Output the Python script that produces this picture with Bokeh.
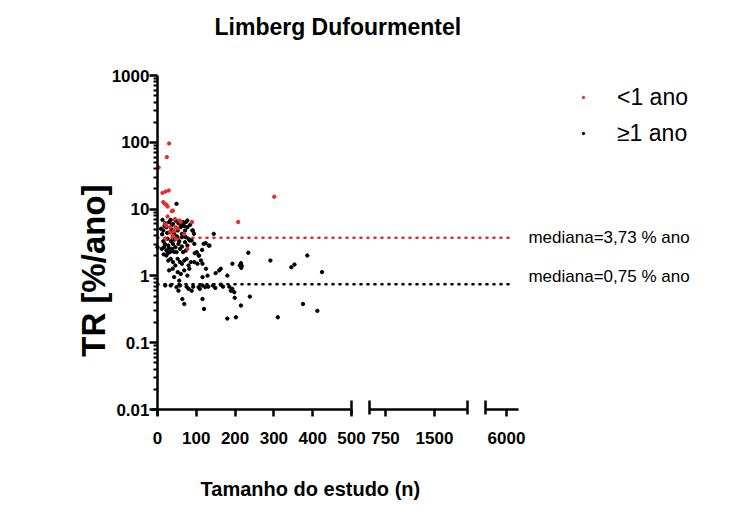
import math
from bokeh.plotting import figure
from bokeh.models import (Range1d, LinearAxis, LogAxis, FixedTicker, CustomJSTickFormatter,
                          Label, Legend, LegendItem)
from bokeh.embed import file_html
from bokeh.resources import INLINE

# ---------------- data ----------------
red_x = [30, 24, 3, 29, 21, 13, 15, 18, 23, 26, 37, 40, 301, 208, 26, 45, 57, 60, 89, 20,
         23, 33, 47, 52, 42, 69, 39, 21, 47, 77, 33]
red_y = [96, 60, 42, 19, 18.3, 17.5, 12.7, 12.1, 11.6, 10.9, 9.3, 9.5, 15.3, 6.4, 7.75, 7.1,
         6.75, 6.4, 6.4, 6.0, 5.6, 5.36, 5.36, 5.1, 4.7, 4.27, 4.0, 3.59, 3.59, 2.55, 4.5]

black_x = [49, 0,
           13, 20, 30, 34, 40, 47, 54, 66, 73, 77,
           9, 15, 23, 32, 37, 43, 52, 60, 63, 71, 77, 90, 63, 73, 80,
           11, 17, 23, 28, 32, 37, 40, 46, 49, 54, 58, 63, 66, 71, 77, 83, 88, 73,
           95, 101, 107, 112, 103, 116, 125, 129, 116,
           23, 28, 34, 40, 46, 52, 58, 63, 69, 75, 80, 86, 95,
           30, 39, 52, 60, 69, 77, 82, 43, 56,
           20, 34, 49, 54, 58, 75, 80, 88, 92, 106, 109, 116, 123, 131, 143, 149, 163, 169,
           185, 189, 193, 198,
           64, 69, 116, 120,
           150, 159, 163, 193, 215, 217,
           180, 202, 215,
           212, 216, 234, 199, 238, 291, 310, 345, 353, 386, 375, 412, 424,
           145, 132, 119, 96, 106, 115, 124, 134, 91, 94,
           180,
           15, 19, 26, 29, 35, 44, 50, 56, 12, 25, 18, 38, 61, 68, 84, 27, 42, 16]
black_y = [12.0, 2.69,
           6.91, 6.15, 6.37, 6.91, 6.02, 6.75, 6.15, 6.37, 6.37, 6.75,
           5.07, 4.78, 5.37, 4.52, 4.90, 4.26, 4.78, 5.37, 4.26, 4.78, 5.37, 4.78, 3.80, 3.80, 3.59,
           2.54, 2.69, 2.40, 2.85, 2.27, 2.54, 3.02, 2.69, 2.27, 3.02, 2.54, 2.75, 2.27, 3.20, 2.85,
           3.39, 3.39, 2.40,
           3.02, 2.27, 2.02, 1.70, 1.52, 1.52, 1.28, 1.01, 0.96,
           2.02, 1.70, 1.80, 1.61, 1.43, 1.80, 1.61, 1.52, 1.70, 1.80, 1.43, 1.61, 1.61,
           1.21, 1.28, 1.14, 1.07, 1.21, 1.01, 1.28, 0.96, 0.85,
           0.72, 0.72, 0.68, 0.60, 0.72, 0.69, 0.64, 0.60, 0.69, 0.68, 0.64, 0.72, 0.68, 0.69,
           0.72, 0.66, 0.74, 0.69, 0.69, 0.60, 0.64, 0.57,
           0.45, 0.38, 0.45, 0.32,
           1.10, 1.21, 1.28, 1.52, 1.55, 1.42,
           0.23, 0.24, 0.36,
           1.43, 1.32, 2.22, 0.47, 0.49, 1.70, 0.24, 1.35, 1.48, 2.02, 0.38, 0.30, 1.14,
           4.26, 2.85, 3.02, 2.19, 2.02, 2.45, 3.1, 2.84, 4.78, 4.27,
           1.01,
           3.3, 3.0, 3.6, 2.6, 3.3, 3.5, 3.9, 3.3, 4.2, 4.4, 5.6, 5.8, 5.9, 5.6, 5.8, 2.2, 2.3, 2.1]

median_red = 3.73
median_black = 0.75
median_span = [0, 915]

seg1_ticks = [0, 100, 200, 300, 400, 500]
seg2_ticks = [750, 1500]
seg3_ticks = [6000]
y_ticks = [0.01, 0.1, 1, 10, 100, 1000]
y_minor = [m * 10.0 ** e for e in range(-2, 3) for m in range(2, 10)]

RED = "#e52b2b"
FONT = "Liberation Sans"

# ---------------- figure ----------------
p = figure(width=716, height=502,
           x_range=Range1d(-404.6, 1440.7), y_range=Range1d(4.055e-4, 3342),
           y_axis_type="log",
           x_axis_location=None, y_axis_location=None,
           output_backend="svg", toolbar_location=None,
           min_border_left=0, min_border_right=0, min_border_top=40, min_border_bottom=0)
p.extra_x_ranges = {"seg2": Range1d(-5146, 5819), "seg3": Range1d(-1749, 9216)}
p.grid.visible = False
p.outline_line_color = None
p.background_fill_color = "white"
p.border_fill_color = "white"

p.title.text = "Limberg Dufourmentel"
p.title.align = "left"
p.title.offset = 214
p.title.text_font = FONT
p.title.text_font_style = "bold"
p.title.text_font_size = "23px"
p.title.text_color = "black"
p.title.standoff = 2


def style_x(ax):
    ax.fixed_location = 0.01
    ax.axis_line_width = 2.5
    ax.major_tick_line_width = 2.5
    ax.major_tick_out = 7
    ax.major_tick_in = 0
    ax.minor_tick_line_color = None
    ax.major_label_text_font = FONT
    ax.major_label_text_font_style = "bold"
    ax.major_label_text_font_size = "17px"
    ax.major_label_text_color = "black"
    ax.major_label_standoff = 15


ax1 = LinearAxis(ticker=FixedTicker(ticks=seg1_ticks), bounds=(-15.46, 500))
style_x(ax1)
p.add_layout(ax1, "below")
ax2 = LinearAxis(x_range_name="seg2", ticker=FixedTicker(ticks=seg2_ticks), bounds=(500, 2000))
style_x(ax2)
p.add_layout(ax2, "below")
ax3 = LinearAxis(x_range_name="seg3", ticker=FixedTicker(ticks=seg3_ticks), bounds=(5678, 6184))
style_x(ax3)
p.add_layout(ax3, "below")


def break_axis(rname, ticks):
    kw = {} if rname is None else {"x_range_name": rname}
    b = LinearAxis(ticker=FixedTicker(ticks=ticks), **kw)
    b.fixed_location = 0.01
    b.axis_line_color = None
    b.major_tick_line_width = 2.5
    b.major_tick_in = 9
    b.major_tick_out = 5
    b.minor_tick_line_color = None
    b.major_label_text_font_size = "0px"
    b.major_label_text_alpha = 0
    p.add_layout(b, "below")


break_axis(None, [500])
break_axis("seg2", [500, 2000])
break_axis("seg3", [5678])

yax = LogAxis(ticker=FixedTicker(ticks=y_ticks, minor_ticks=y_minor),
              formatter=CustomJSTickFormatter(code="return tick.toString()"),
              bounds=(0.0081, 1000))
yax.fixed_location = 0
yax.axis_line_width = 2.5
yax.major_tick_line_width = 2.5
yax.minor_tick_line_width = 2
yax.major_tick_out = 8
yax.major_tick_in = 0
yax.minor_tick_out = 4
yax.minor_tick_in = 0
yax.major_label_text_font = FONT
yax.major_label_text_font_style = "bold"
yax.major_label_text_font_size = "17px"
yax.major_label_text_color = "black"
yax.major_label_standoff = 0
p.add_layout(yax, "left")

# median lines
p.line(median_span, [median_red, median_red], line_color=RED, line_width=2.6,
       line_dash="1 6", line_cap="round")
p.line(median_span, [median_black, median_black], line_color="black", line_width=2.6,
       line_dash="1 6", line_cap="round")

rb = p.scatter(black_x, black_y, size=3.4, color="black")
rr = p.scatter(red_x, red_y, size=3.4, color=RED)

legend = Legend(items=[LegendItem(label="<1 ano", renderers=[rr]),
                       LegendItem(label="\u22651 ano", renderers=[rb])],
                location=(580, 351))
legend.border_line_color = None
legend.background_fill_alpha = 0
legend.padding = 0
legend.margin = 0
legend.spacing = 0
legend.glyph_width = 6
legend.glyph_height = 6
legend.label_height = 36
legend.label_standoff = 31
legend.label_text_font = FONT
legend.label_text_font_size = "23px"
legend.label_text_color = "black"
p.add_layout(legend)

for val, txt, yoff in [(median_red, "mediana=3,73 % ano", 0), (median_black, "mediana=0,75 % ano", 8)]:
    p.add_layout(Label(x=956, y=val, text=txt, y_offset=yoff, text_baseline="middle",
                       text_font=FONT, text_font_size="17px", text_color="black"))

p.add_layout(Label(x=394, y=6.57e-4, text="Tamanho do estudo (n)", text_align="center",
                   text_baseline="middle", text_font=FONT, text_font_style="bold",
                   text_font_size="20px", text_color="black"))
p.add_layout(Label(x=-165, y=1.2, text="TR [%/ano]", angle=math.pi / 2, text_align="center",
                   text_baseline="middle", text_font=FONT, text_font_style="bold",
                   text_font_size="33px", text_color="black"))

open("out.html", "w").write(file_html(p, INLINE))
